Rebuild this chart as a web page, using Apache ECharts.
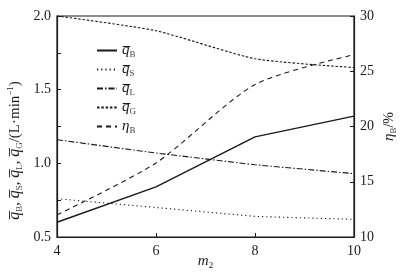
<!DOCTYPE html>
<html><head><meta charset="utf-8">
<script src="https://cdn.jsdelivr.net/npm/echarts@6/dist/echarts.min.js"></script>
<style>html,body{margin:0;padding:0;background:#fff}#c{width:408px;height:275px}</style>
</head><body><div id="c"></div>
<script>
const m2 = [4, 6, 8, 10];
const qB = [0.60, 0.84, 1.18, 1.32];
const qS = [0.76, 0.70, 0.64, 0.62];
const qL = [1.16, 1.07, 0.99, 0.93];
const qG = [2.00, 1.90, 1.71, 1.65];
const etaB = [12.0, 16.7, 23.8, 26.5];
const seriesNames = ['qB', 'qS', 'qL', 'qG', 'etaB'];
const xTicks = [4, 6, 8, 10];

const FONT = 'Liberation Serif';
const C = '#1a1a1a';
const pairs = a => m2.map((x, i) => [x, a[i]]);
const QB = 'q\u0305';

const legendRich = {
  q: {fontFamily: FONT, fontStyle: 'italic', fontSize: 15, color: C, lineHeight: 15},
  s: {fontFamily: FONT, fontSize: 9, color: '#444', padding: [8, 0, 0, 0], lineHeight: 9}
};
const legendLabel = {
  qB: `{q|${QB}}{s|B}`, qS: `{q|${QB}}{s|S}`, qL: `{q|${QB}}{s|L}`, qG: `{q|${QB}}{s|G}`, etaB: '{q|η}{s|B}'
};

const chart = echarts.init(document.getElementById('c'), null, {renderer: 'canvas'});
const mk = (name, data, type, yIdx, smooth, width) => ({
  name, type: 'line', data: pairs(data), yAxisIndex: yIdx, smooth: smooth,
  symbol: 'none', showSymbol: false, legendIcon: 'none',
  lineStyle: {color: C, width: width || 1.1, type: type},
  itemStyle: {color: C}
});
chart.setOption({
  animation: false,
  backgroundColor: '#fff',
  grid: {left: 57, right: 54, top: 16, bottom: 38, containLabel: false, outerBoundsMode: 'none',
    show: true, borderColor: C, borderWidth: 1.2, backgroundColor: 'transparent'},
  legend: {
    orient: 'vertical', left: 91, top: 37, itemWidth: 20, itemHeight: 10, itemGap: 2,
    data: seriesNames,
    itemStyle: {color: 'transparent', borderColor: 'transparent', borderWidth: 0, opacity: 0},
    formatter: n => legendLabel[n],
    textStyle: {rich: legendRich}
  },
  xAxis: {
    type: 'value', min: 4, max: 10, interval: 2,
    name: '{m|m}{s|2}', nameLocation: 'middle', nameGap: 15, nameMoveOverlap: false,
    nameTextStyle: {rich: {m: {fontFamily: FONT, fontStyle: 'italic', fontSize: 15, color: C}, s: {fontFamily: FONT, fontSize: 9, color: C, padding: [9, 0, 0, 0]}}},
    axisLine: {lineStyle: {color: C, width: 1.2}},
    axisTick: {inside: true, length: 4, lineStyle: {color: C}},
    axisLabel: {fontFamily: FONT, fontSize: 14, color: C, margin: 7,
      formatter: v => xTicks.includes(v) ? String(v) : ''},
    splitLine: {show: false}
  },
  yAxis: [{
    type: 'value', min: 0.5, max: 2.0, interval: 0.25, position: 'left',
    name: `{q|${QB}}{s|B}{c|, }{q|${QB}}{s|S}{c|, }{q|${QB}}{s|L}{c|, }{q|${QB}}{s|G}{c|/(L·min}{u|−1}{c|)}`,
    nameLocation: 'middle', nameRotate: 90, nameGap: 33, nameMoveOverlap: false,
    nameTextStyle: {padding: [0, 48, 0, 0], rich: {
      q: {fontFamily: FONT, fontStyle: 'italic', fontSize: 16, color: C},
      c: {fontFamily: FONT, fontSize: 15, color: C},
      s: {fontFamily: FONT, fontSize: 9, color: '#444', padding: [9, 0, 0, 0]},
      u: {fontFamily: FONT, fontSize: 9, color: C, padding: [0, 0, 9, 0]}
    }},
    axisLine: {show: true, lineStyle: {color: C, width: 1.2}},
    axisTick: {inside: true, length: 4, lineStyle: {color: C}},
    axisLabel: {fontFamily: FONT, fontSize: 14, color: C, margin: 6,
      formatter: v => (Math.abs(v * 2 - Math.round(v * 2)) < 1e-6) ? v.toFixed(1) : ''},
    splitLine: {show: false}
  }, {
    type: 'value', min: 10, max: 30, interval: 5, position: 'right',
    name: '{q|η}{s|B}{c|/%}', nameLocation: 'middle', nameRotate: 90, nameGap: 26, nameMoveOverlap: false,
    nameTextStyle: {rich: {
      q: {fontFamily: FONT, fontStyle: 'italic', fontSize: 15, color: C},
      c: {fontFamily: FONT, fontSize: 14, color: C},
      s: {fontFamily: FONT, fontSize: 9, color: '#444', padding: [9, 0, 0, 0]}
    }},
    axisLine: {show: true, lineStyle: {color: C, width: 1.2}},
    axisTick: {inside: true, length: 4, lineStyle: {color: C}},
    axisLabel: {fontFamily: FONT, fontSize: 14, color: C, margin: 6},
    splitLine: {show: false}
  }],
  series: [
    mk('qB', qB, 'solid', 0, false, 1.4),
    mk('qS', qS, [1.2, 3], 0, false),
    mk('qL', qL, [6, 2, 1.5, 2], 0, false),
    mk('qG', qG, [2.5, 1.8], 0, 0.2),
    mk('etaB', etaB, [5, 4], 1, 0.25)
  ]
});
</script></body></html>
